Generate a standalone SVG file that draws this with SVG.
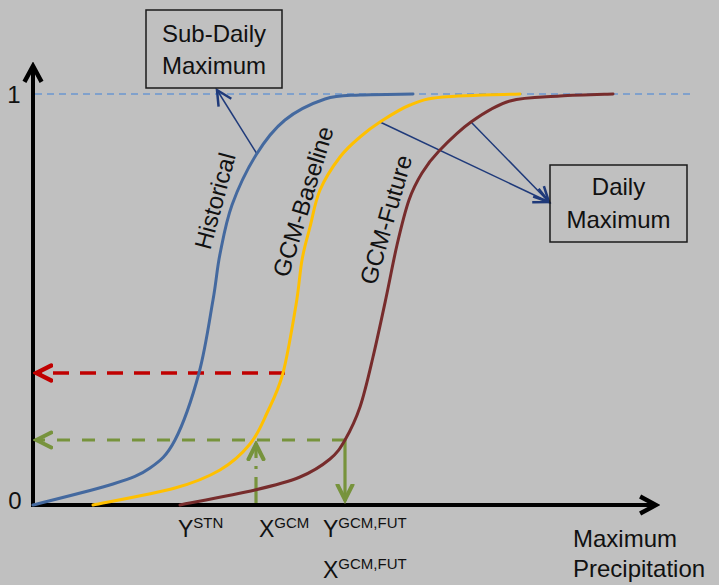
<svg xmlns="http://www.w3.org/2000/svg" width="719" height="585" viewBox="0 0 719 585">
<defs>
<style>
.t{font-family:"Liberation Sans",Arial,sans-serif;fill:#111;}
.lbl{font-size:24px;}
.box{fill:none;stroke:#1a1a1a;stroke-width:1.5;}
.curve{fill:none;stroke-width:3;stroke-linecap:round;}
.nav{fill:none;stroke:#1F3A7A;stroke-width:1.5;}
</style>
<marker id="mNav" markerUnits="userSpaceOnUse" markerWidth="20" markerHeight="20" refX="10" refY="5" orient="auto" viewBox="0 0 12 10">
<path d="M1,0.5 L10,5 L1,9.5" fill="none" stroke="#1F3A7A" stroke-width="1.5"/>
</marker>
<marker id="mRed" markerUnits="userSpaceOnUse" markerWidth="20" markerHeight="20" refX="14" refY="7" orient="auto" viewBox="0 0 16 14">
<path d="M1,1 L13,7 L1,13" fill="none" stroke="#C00000" stroke-width="3.5" stroke-linecap="round"/>
</marker>
<marker id="mGreen" markerUnits="userSpaceOnUse" markerWidth="20" markerHeight="20" refX="14" refY="7" orient="auto" viewBox="0 0 16 14">
<path d="M1,1 L13,7 L1,13" fill="none" stroke="#77933C" stroke-width="3.2" stroke-linecap="round"/>
</marker>
<marker id="mBlack" markerUnits="userSpaceOnUse" markerWidth="22" markerHeight="22" refX="15" refY="8" orient="auto" viewBox="0 0 18 16">
<path d="M2,1 L15,8 L2,15" fill="none" stroke="#000" stroke-width="3.6"/>
</marker>
</defs>
<rect x="0" y="0" width="719" height="585" fill="#C0C0C0"/>

<g id="axes">
<line x1="33" y1="507" x2="33" y2="66" stroke="#000" stroke-width="4" marker-end="url(#mBlack)"/>
<line x1="31" y1="505" x2="656" y2="505" stroke="#000" stroke-width="4" marker-end="url(#mBlack)"/>
<line x1="35" y1="94" x2="692" y2="94" stroke="#6B96CF" stroke-width="1.4" stroke-dasharray="7 5"/>
<text class="t" x="14" y="103" font-size="24" text-anchor="middle">1</text>
<text class="t" x="15" y="509" font-size="24" text-anchor="middle">0</text>
</g>

<g id="connectors">
<line x1="285" y1="373" x2="35" y2="373" stroke="#C00000" stroke-width="3.5" stroke-dasharray="16 11" marker-end="url(#mRed)"/>
<line x1="345" y1="440" x2="35" y2="440" stroke="#77933C" stroke-width="3.2" stroke-dasharray="13 12" marker-end="url(#mGreen)"/>
<line x1="256" y1="503" x2="256" y2="443" stroke="#77933C" stroke-width="3.2" stroke-dasharray="26 8 3 8" marker-end="url(#mGreen)"/>
<line x1="345" y1="440" x2="345" y2="501" stroke="#77933C" stroke-width="3.2" marker-end="url(#mGreen)"/>
<line class="nav" x1="257" y1="154" x2="217" y2="90" marker-end="url(#mNav)"/>
<line class="nav" x1="380" y1="122" x2="549" y2="202" marker-end="url(#mNav)"/>
<line class="nav" x1="471" y1="122" x2="549" y2="202" marker-end="url(#mNav)"/>
</g>

<g id="historical">
<path class="curve" stroke="#44699F" d="M33,505 C46.3,501.5 93.5,490.2 113,484 C132.5,477.8 139.7,475.3 150,468 C160.3,460.7 166.8,455.8 175,440 C183.2,424.2 192.7,396.3 199,373 C205.3,349.7 209.5,319.8 213,300 C216.5,280.2 216.8,269.8 220,254 C223.2,238.2 226,221.5 232,205 C238,188.5 247.2,169.2 256,155 C264.8,140.8 273.5,129.3 285,120 C296.5,110.7 312.5,103.2 325,99 C337.5,95 345.3,95.8 360,95 C374.7,94.2 404.2,94.2 413,94"/>
<text class="t lbl" transform="translate(223,203) rotate(-75)" text-anchor="middle">Historical</text>
</g>

<g id="gcm-baseline">
<path class="curve" stroke="#FFC000" d="M93,505 C106.7,502.2 153.8,493.8 175,488 C196.2,482.2 207.5,477.3 220,470 C232.5,462.7 242.2,453.5 250,444 C257.8,434.5 261.5,424.8 267,413 C272.5,401.2 278.2,391 283,373 C287.8,355 292.8,323.8 296,305 C299.2,286.2 299.7,273 302,260 C304.3,247 307,238.7 310,227 C313,215.3 315,201.7 320,190 C325,178.3 333.3,165.8 340,157 C346.7,148.2 353.3,142.8 360,137 C366.7,131.2 371.7,127.3 380,122 C388.3,116.7 399.5,109.2 410,105 C420.5,100.8 424.7,98.8 443,97 C461.3,95.2 507.2,94.5 520,94"/>
<text class="t lbl" transform="translate(311,204) rotate(-73)" text-anchor="middle">GCM-Baseline</text>
</g>

<g id="gcm-future">
<path class="curve" stroke="#772C2C" d="M180,505 C192.5,502.5 235,494.7 255,490 C275,485.3 287.5,482.2 300,477 C312.5,471.8 322.5,465.2 330,459 C337.5,452.8 340,448.7 345,440 C350,431.3 355.3,420.8 360,407 C364.7,393.2 368.7,375.2 373,357 C377.3,338.8 382,316.7 386,298 C390,279.3 393.2,261.3 397,245 C400.8,228.7 404.8,212 409,200 C413.2,188 417,181.2 422,173 C427,164.8 430.8,159.5 439,151 C447.2,142.5 459.2,130.3 471,122 C482.8,113.7 495.2,105.3 510,101 C524.8,96.7 542.8,97.2 560,96 C577.2,94.8 604.2,94.3 613,94"/>
<text class="t lbl" transform="translate(394,222) rotate(-74)" text-anchor="middle">GCM-Future</text>
</g>

<g id="sub-daily-maximum">
<rect class="box" x="146" y="10" width="136" height="78"/>
<text class="t lbl" x="214" y="42" text-anchor="middle">Sub-Daily</text>
<text class="t lbl" x="214" y="74" text-anchor="middle">Maximum</text>
</g>

<g id="daily-maximum">
<rect class="box" x="550" y="165" width="137" height="77"/>
<text class="t lbl" x="618.5" y="195" text-anchor="middle">Daily</text>
<text class="t lbl" x="618.5" y="228" text-anchor="middle">Maximum</text>
</g>

<g id="x-labels">
<text class="t" x="178" y="537" font-size="23">Y<tspan font-size="15" dy="-9">STN</tspan></text>
<text class="t" x="259" y="537" font-size="23">X<tspan font-size="15" dy="-9">GCM</tspan></text>
<text class="t" x="323" y="537" font-size="23">Y<tspan font-size="15" dy="-9">GCM,FUT</tspan></text>
<text class="t" x="323" y="578" font-size="23">X<tspan font-size="15" dy="-9">GCM,FUT</tspan></text>
<text class="t lbl" x="573" y="547">Maximum</text>
<text class="t lbl" x="573" y="577">Precipitation</text>
</g>
</svg>
